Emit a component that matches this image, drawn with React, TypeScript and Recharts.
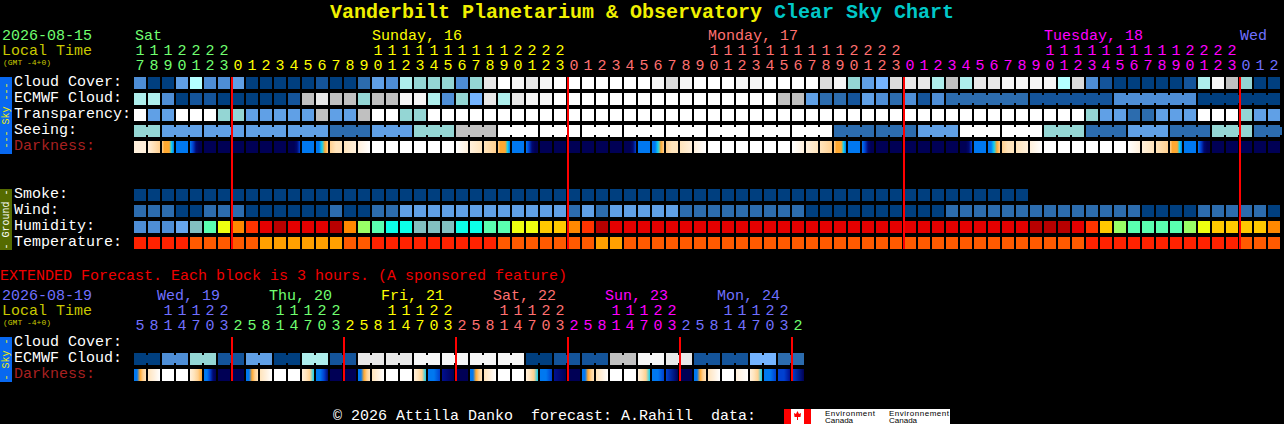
import { ScatterChart, Scatter, XAxis, YAxis, ReferenceLine } from 'recharts'

// level -> colour tables, same ones the CSC legend uses (close enough by eye)
const SKY = ['#003f7f', '#14549a', '#2c6cae', '#4e8ed6', '#60a0e6', '#74b4ff', '#94d6d4', '#aeeeec', '#b4ffff', '#c0c0c0', '#dcdcdc', '#e8e8e8', '#f6f6f6', '#ffffff']
const HUMID = ['#4e8ed6', '#66a6ee', '#82c0c0', '#5affb0', '#0cffe8', '#99ff66', '#eeff10', '#ffc800', '#ff8800', '#ff3300', '#e40000', '#b80000']
const TEMP = ['#ff2200', '#ff5a00', '#ffa000']
const DARK = ['#ffffff', '#fff0dc', '#ffe4bc', '#ffd090', '#ffa830', '#10d0f0', '#0078f0', '#0040d0', '#001090', '#000870', '#000055']

const GREEN = '#70ff70'
const YELLOW = '#ffff00'
const PINK = '#ff7070'
const MAGENTA = '#ff00ff'
const PERI = '#7070ff'
const OLIVE = '#c8c800'

const hours = [17, 18, 19, 20, 21, 22, 23,
  0, 1, 2, 3, 4, 5, 6, 7, 8, 9, 10, 11, 12, 13, 14, 15, 16, 17, 18, 19, 20, 21, 22, 23,
  0, 1, 2, 3, 4, 5, 6, 7, 8, 9, 10, 11, 12, 13, 14, 15, 16, 17, 18, 19, 20, 21, 22, 23,
  0, 1, 2, 3, 4, 5, 6, 7, 8, 9, 10, 11, 12, 13, 14, 15, 16, 17, 18, 19, 20, 21, 22, 23,
  0, 1, 2]
const midnights = [7, 31, 55, 79]
const dayColors = [GREEN, YELLOW, PINK, MAGENTA, PERI]

const extHours = [5, 8, 11, 14, 17, 20, 23,
  2, 5, 8, 11, 14, 17, 20, 23,
  2, 5, 8, 11, 14, 17, 20, 23,
  2, 5, 8, 11, 14, 17, 20, 23,
  2, 5, 8, 11, 14, 17, 20, 23,
  2, 5, 8, 11, 14, 17, 20, 23,
  2]
const extMidnights = [7, 15, 23, 31, 39, 47]
const extDayColors = [PERI, GREEN, YELLOW, PINK, MAGENTA, PERI, GREEN]

const cloudCover = [3, 0, 0, 4, 8, 3, 3, 4, 0, 0, 0, 0, 0, 1, 0, 0, 2, 4, 3, 7, 6,
  6, 6, 3, 6, 11, 13, 12, 11, 12, 13,
  13, 13, 13, 13, 13, 13, 12, 10, 12, 13, 13, 13, 12, 12, 13, 13, 13, 13, 10, 12, 6,
  4, 5, 10, 11, 11, 7, 9, 7, 11, 11, 12, 12, 12, 12, 8, 10, 3, 1, 0, 0, 0, 0, 0, 1, 7, 12, 9, 6, 0, 0]
const ecmwfCloud = [7, 7, 3, 0, 1, 1, 0, 0, 0, 0, 0, 1, 9, 11, 9, 9, 6, 9, 9, 12, 12,
  7, 3, 6, 5, 11, 7, 11, 12, 12, 13,
  13, 13, 13, 13, 13, 13, 13, 13, 13, 13, 13, 13, 13, 13, 13, 9, 9, 4, 2, 2, 1,
  4, 3, 2, 3, 1, 3,
  2, 2, 2, 2, 2, 2, 1, 1, 1, 1, 1, 1, 3, 3, 3, 3, 3, 3, 0, 0, 0, 0, 0, 0]
const transparency = [13, 4, 4, 13, 13, 13, 6, 6, 4, 4, 4, 4, 4, 9, 4, 4, 9, 13, 13, 6, 6,
  13, 13, 13, 13, 13, 13, 13, 13, 13, 13, 13, 13, 13, 13, 13, 13, 13, 13, 13, 13, 13, 13, 13, 13,
  13, 13, 13, 13, 13, 13, 13, 13, 13, 13, 13, 13, 13, 13, 13, 13, 13, 13, 13, 13, 13, 13, 13,
  6, 4, 4, 2, 2, 4, 4, 4, 13, 13, 13, 6, 4, 4]
const seeing = [6, 6,
  4, 4, 4, 4, 4, 4, 4, 4, 4, 4, 4, 4, 2, 2, 2, 4, 4, 4, 6, 6, 6, 9, 9, 9,
  13, 13, 13, 13, 13, 13, 13, 13, 13, 13, 13, 13, 13, 13, 13, 13, 13, 13, 13, 13, 13, 13, 13, 13,
  2, 2, 2, 2, 2, 2, 4, 4, 4, 13, 13, 13, 13, 13, 13, 6, 6, 6, 2, 2, 2, 4, 4, 4, 2, 2, 2, 6, 6, 6,
  2, 2]
// samples across each hour block, left to right
const darkness = [[1, 1], [1, 3], [3, 4, 4, 4, 5, 6], [6], [6, 7, 9, 10, 10], [10], [10], [10], [10], [10], [10],
  [10, 10, 10, 9, 7], [6], [6, 6, 5, 4, 3], [3, 2, 2], [2, 1], [1, 0], [0], [0], [0], [0], [0], [0],
  [0, 1], [1, 2], [2, 3], [3, 4, 4, 4, 5, 6], [6], [6, 7, 9, 10, 10], [10], [10], [10], [10], [10], [10],
  [10, 10, 10, 9, 7], [6], [6, 6, 5, 4, 3], [3, 2, 2], [2, 1], [1, 0], [0], [0], [0], [0], [0], [0],
  [0, 1], [1, 2], [2, 3], [3, 4, 4, 4, 5, 6], [6], [6, 7, 9, 10, 10], [10], [10], [10], [10], [10], [10],
  [10, 10, 10, 9, 7], [6], [6, 6, 5, 4, 3], [3, 2, 2], [2, 1], [1, 0], [0], [0], [0], [0], [0], [0],
  [0, 1], [1, 2], [2, 3], [3, 4, 4, 4, 5, 6], [6], [6, 7, 9, 10, 10], [10], [10], [10], [10], [10]]

const smoke = [0, 0, 0, 0, 0, 0, 0, 0, 0, 0, 0, 0, 0, 0, 0, 0, 0, 0, 0, 0, 0, 0, 0, 0, 0, 0, 0, 0, 0, 0, 0, 0,
  0, 0, 0, 0, 0, 0, 0, 0, 0, 0, 0, 0, 0, 0, 0, 0, 0, 0, 0, 0, 0, 0, 0, 0, 0, 0, 0, 0, 0, 0, 0, 0]
const wind = [2, 2, 2, 0, 0, 2, 2, 2, 0, 0, 0, 0, 0, 0, 2, 0, 0, 2, 2, 4, 4,
  4, 4, 4, 4, 4, 4, 4, 4, 4, 4,
  2, 4, 2, 4, 4, 4, 4, 4, 2, 2, 2, 2, 2, 2, 2, 2, 2,
  0, 0, 0, 0, 0, 0, 0, 0, 0, 0,
  2, 2, 2, 2, 2, 2, 2, 2, 2, 2, 2, 2, 2, 2, 0, 0, 0, 0, 2, 2, 2, 2, 2, 0]
const humidity = [0, 0, 0, 1, 2, 3, 6, 8, 9, 10, 11, 10, 10, 10, 11, 8, 5, 3, 4, 4, 2,
  2, 2, 4, 4, 3, 3, 6, 6, 7, 7, 8, 9, 11,
  10, 10, 10, 10, 10, 10, 10, 10, 10, 10, 10, 10, 10, 10, 10, 10, 10, 10,
  10, 10, 10, 10, 10, 10, 10, 10, 10, 10, 10, 10,
  11, 11, 11, 10, 9, 7, 5, 3, 3, 3, 3, 5, 6, 7, 7, 7, 7, 8]
const temperature = [0, 0, 0, 0, 1, 1, 1, 1, 1, 2, 2, 2, 2, 2, 2, 1, 1, 0, 0, 0, 0,
  0, 0, 0, 0, 0, 1, 1, 1, 1, 1, 1, 1, 2, 2,
  1, 1, 1, 1, 1, 1, 1, 1, 1, 1, 1, 1, 1, 1, 1, 1, 1,
  1, 1, 1, 1, 1, 1, 1, 1, 1, 1, 1, 1, 1, 1, 1, 1,
  0, 0, 0, 0, 0, 0, 0, 0, 0, 0, 0, 1, 1, 1]

const extEcmwf = [0, 0, 3, 3, 6, 6, 1, 1, 4, 4, 0, 0, 7, 7, 1, 1, 11, 11, 11, 11, 12, 12, 12, 12,
  12, 12, 12, 12, 0, 0, 1, 1, 1, 1, 9, 9, 12, 12, 11, 11, 1, 1, 1, 1, 5, 5, 2, 2]
const extDarkness = [[6, 6, 4, 3, 2], [2, 1, 0], [0], [0], [1, 2, 3, 4], [6, 6, 7, 9, 10], [10], [10],
  [6, 6, 4, 3, 2], [2, 1, 0], [0], [0], [1, 2, 3, 5], [6, 6, 7, 9], [10], [10],
  [6, 6, 4, 3, 2], [2, 1, 0], [0], [0], [1, 2, 3, 5], [6, 6, 7], [8, 10], [10],
  [6, 6, 4, 3, 2], [2, 1, 0], [0], [0], [1, 2, 3, 5], [6, 6, 7], [8, 10], [10],
  [6, 6, 4, 3, 2], [2, 1, 0], [0], [0], [1, 2, 3, 5], [6, 6, 7], [7, 10], [10],
  [6, 6, 4, 3, 2], [2, 1, 0], [0], [1, 0], [1, 2, 3, 5], [6, 6, 7], [7, 7, 8], [7, 10]]

// row numbers on the y axis, 16px each, row 0 is Cloud Cover
const ROW = { cloud: 0, ecmwf: 1, transp: 2, seeing: 3, dark: 4, smoke: 7, wind: 8, humid: 9, temp: 10, extCloud: 16.25, extEcmwf: 17.25, extDark: 18.25 }

const FONT = '"Liberation Mono", monospace'

const toCells = (levels: number[], row: number, palette: string[], joinsNext?: (col: number) => boolean) =>
  levels.map((level, col) => ({ col, row, fill: palette[level], join: joinsNext ? joinsNext(col) : false }))

const toDarkCells = (samples: number[][], row: number) =>
  samples.map((levels, col) => ({ col, row, stops: levels.map(l => DARK[l]) }))

function CellShape(props: any) {
  const { cx, cy, payload } = props
  return (
    <g shapeRendering="crispEdges">
      <rect x={cx - 6} y={cy - 6} width={12} height={12} fill={payload.fill} />
      {payload.join && <rect x={cx + 6} y={cy - 4} width={2} height={8} fill={payload.fill} />}
    </g>
  )
}

function DarkShape(props: any) {
  const { cx, cy, payload } = props
  const stops: string[] = payload.stops
  if (stops.length === 1) {
    return <rect x={cx - 6} y={cy - 6} width={12} height={12} fill={stops[0]} shapeRendering="crispEdges" />
  }
  const id = `dk-${payload.row}-${payload.col}`.replace('.', '_')
  return (
    <g>
      <defs>
        <linearGradient id={id} x1="0" x2="1" y1="0" y2="0">
          {stops.map((c, i) => <stop key={i} offset={i / (stops.length - 1)} stopColor={c} />)}
        </linearGradient>
      </defs>
      <rect x={cx - 6} y={cy - 6} width={12} height={12} fill={`url(#${id})`} shapeRendering="crispEdges" />
    </g>
  )
}

function Txt({ x, y, fill = '#ffffff', size = 15, bold, children }: any) {
  return (
    <text x={x} y={y} fill={fill} fontSize={size} fontFamily={FONT} fontWeight={bold ? 700 : 400} style={{ whiteSpace: 'pre' }}>
      {children}
    </text>
  )
}

function SideBar({ y, height, fill, color, label }: any) {
  const mid = y + height / 2
  return (
    <g>
      <rect x={0} y={y} width={12} height={height} fill={fill} />
      <text x={6} y={mid} fill={color} fontSize={10} fontFamily={FONT} textAnchor="middle" dominantBaseline="central"
        transform={`rotate(-90 6 ${mid})`} style={{ whiteSpace: 'pre' }}>
        {label}
      </text>
    </g>
  )
}

function hourTick(list: number[], breaks: number[], colors: string[], tensY: number, unitsY: number) {
  return (p: any) => {
    const col = p.payload.value
    const h = list[col]
    const fill = colors[breaks.filter(b => b <= col).length]
    return (
      <g fontFamily={FONT} fontSize={15} fill={fill} textAnchor="middle">
        {h >= 10 && <text x={p.x} y={tensY} fill={fill}>{Math.floor(h / 10)}</text>}
        <text x={p.x} y={unitsY} fill={fill}>{h % 10}</text>
      </g>
    )
  }
}

export default function App() {
  return (
    <div style={{ position: 'absolute', left: 0, top: 0, width: 1284, height: 424, background: '#000', overflow: 'hidden' }}>
      <ScatterChart width={1284} height={424} margin={{ top: 0, right: 0, bottom: 0, left: 0 }}>
        {/* the two top axes take 1px each, hence -5.0625 and not -5.1875 on y */}
        <XAxis xAxisId="main" type="number" dataKey="col" orientation="top" height={1} domain={[-10, 1144 / 14]} allowDataOverflow
          ticks={hours.map((_, i) => i)} interval={0} axisLine={false} tickLine={false}
          tick={hourTick(hours, midnights, dayColors, 55, 70)} />
        <XAxis xAxisId="ext" type="number" dataKey="col" orientation="top" height={1} domain={[-10, 1144 / 14]} allowDataOverflow
          ticks={extHours.map((_, i) => i)} interval={0} axisLine={false} tickLine={false}
          tick={hourTick(extHours, extMidnights, extDayColors, 315, 330)} />
        <YAxis type="number" dataKey="row" domain={[-5.0625, 21.3125]} reversed hide allowDataOverflow />

        <Txt x={330} y={18} fill="#f0f000" size={20} bold>Vanderbilt Planetarium &amp; Observatory</Txt>
        <Txt x={774} y={18} fill="#00c8c8" size={20} bold>Clear Sky Chart</Txt>

        <Txt x={2} y={40} fill={GREEN}>2026-08-15</Txt>
        <Txt x={2} y={55} fill={OLIVE}>Local Time</Txt>
        <Txt x={3} y={65} fill={OLIVE} size={8}>(GMT -4+0)</Txt>
        <Txt x={135} y={40} fill={GREEN}>Sat</Txt>
        <Txt x={372} y={40} fill={YELLOW}>Sunday, 16</Txt>
        <Txt x={708} y={40} fill={PINK}>Monday, 17</Txt>
        <Txt x={1044} y={40} fill={MAGENTA}>Tuesday, 18</Txt>
        <Txt x={1240} y={40} fill={PERI}>Wed</Txt>

        <SideBar y={77} height={77} fill="#0868f0" color="#f0f000" label="--- Sky ---" />
        <Txt x={14} y={86}>Cloud Cover:</Txt>
        <Txt x={14} y={102}>ECMWF Cloud:</Txt>
        <Txt x={14} y={118}>Transparency:</Txt>
        <Txt x={14} y={134}>Seeing:</Txt>
        <Txt x={14} y={150} fill="#a82020">Darkness:</Txt>

        <SideBar y={189} height={61} fill="#556b00" color="#ffffff" label="- Ground -" />
        <Txt x={14} y={198}>Smoke:</Txt>
        <Txt x={14} y={214}>Wind:</Txt>
        <Txt x={14} y={230}>Humidity:</Txt>
        <Txt x={14} y={246}>Temperature:</Txt>

        <Txt x={0} y={280} fill="#f00000">EXTENDED Forecast. Each block is 3 hours. (A sponsored feature)</Txt>
        <Txt x={2} y={300} fill={PERI}>2026-08-19</Txt>
        <Txt x={2} y={315} fill={OLIVE}>Local Time</Txt>
        <Txt x={3} y={325} fill={OLIVE} size={8}>(GMT -4+0)</Txt>
        <Txt x={157} y={300} fill={PERI}>Wed, 19</Txt>
        <Txt x={269} y={300} fill={GREEN}>Thu, 20</Txt>
        <Txt x={381} y={300} fill={YELLOW}>Fri, 21</Txt>
        <Txt x={493} y={300} fill={PINK}>Sat, 22</Txt>
        <Txt x={605} y={300} fill={MAGENTA}>Sun, 23</Txt>
        <Txt x={717} y={300} fill={PERI}>Mon, 24</Txt>

        <SideBar y={337} height={45} fill="#0868f0" color="#f0f000" label="- Sky -" />
        <Txt x={14} y={346}>Cloud Cover:</Txt>
        <Txt x={14} y={362}>ECMWF Cloud:</Txt>
        <Txt x={14} y={378} fill="#a82020">Darkness:</Txt>

        <Scatter xAxisId="main" isAnimationActive={false} shape={CellShape} data={toCells(cloudCover, ROW.cloud, SKY)} />
        <Scatter xAxisId="main" isAnimationActive={false} shape={CellShape}
          data={toCells(ecmwfCloud, ROW.ecmwf, SKY, c => c >= 58 && (c - 58) % 6 !== 5)} />
        <Scatter xAxisId="main" isAnimationActive={false} shape={CellShape} data={toCells(transparency, ROW.transp, SKY)} />
        <Scatter xAxisId="main" isAnimationActive={false} shape={CellShape}
          data={toCells(seeing, ROW.seeing, SKY, c => c === 0 || (c >= 2 && (c - 2) % 3 !== 2))} />
        <Scatter xAxisId="main" isAnimationActive={false} shape={DarkShape} data={toDarkCells(darkness, ROW.dark)} />
        <Scatter xAxisId="main" isAnimationActive={false} shape={CellShape} data={toCells(smoke, ROW.smoke, SKY)} />
        <Scatter xAxisId="main" isAnimationActive={false} shape={CellShape} data={toCells(wind, ROW.wind, SKY)} />
        <Scatter xAxisId="main" isAnimationActive={false} shape={CellShape} data={toCells(humidity, ROW.humid, HUMID)} />
        <Scatter xAxisId="main" isAnimationActive={false} shape={CellShape} data={toCells(temperature, ROW.temp, TEMP)} />

        <Scatter xAxisId="ext" isAnimationActive={false} shape={CellShape}
          data={toCells(extEcmwf, ROW.extEcmwf, SKY, c => c % 2 === 0)} />
        <Scatter xAxisId="ext" isAnimationActive={false} shape={DarkShape} data={toDarkCells(extDarkness, ROW.extDark)} />

        {midnights.map(m => (
          <ReferenceLine key={m} xAxisId="main" stroke="#ff0000" strokeWidth={2} shapeRendering="crispEdges" zIndex={1000}
            segment={[{ x: m - 6 / 14, y: -0.375 }, { x: m - 6 / 14, y: 10.375 }]} />
        ))}
        {extMidnights.map(m => (
          <ReferenceLine key={`e${m}`} xAxisId="ext" stroke="#ff0000" strokeWidth={2} shapeRendering="crispEdges" zIndex={1000}
            segment={[{ x: m - 6 / 14, y: 15.875 }, { x: m - 6 / 14, y: 18.625 }]} />
        ))}

        <Txt x={333} y={420}>© 2026 Attilla Danko  forecast: A.Rahill  data:</Txt>
        <g shapeRendering="crispEdges">
          <rect x={784} y={409} width={166} height={15} fill="#ffffff" />
          <rect x={784} y={409} width={7} height={15} fill="#ff0000" />
          <rect x={804} y={409} width={7} height={15} fill="#ff0000" />
        </g>
        <polygon points="797.5,411 799,414 801,413 800.5,417 798,417 798,420 797,420 797,417 794.5,417 794,413 796,414" fill="#ff0000" />
        <text x={825} y={416} fontSize={8} textLength={50} fontFamily="Liberation Sans" fill="#000">Environment</text>
        <text x={825} y={423} fontSize={8} fontFamily="Liberation Sans" fill="#000">Canada</text>
        <text x={889} y={416} fontSize={8} textLength={60} fontFamily="Liberation Sans" fill="#000">Environnement</text>
        <text x={889} y={423} fontSize={8} fontFamily="Liberation Sans" fill="#000">Canada</text>
      </ScatterChart>
    </div>
  )
}
